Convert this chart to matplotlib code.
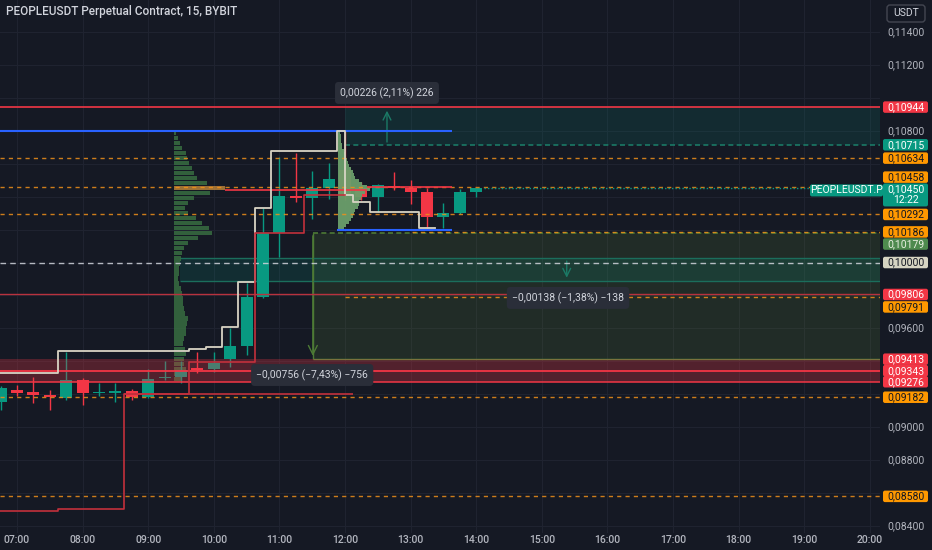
import matplotlib
matplotlib.use("Agg")
import matplotlib.pyplot as plt
from matplotlib.patches import Rectangle, FancyBboxPatch
from matplotlib.transforms import IdentityTransform

plt.rcParams['font.family'] = ['Roboto', 'DejaVu Sans']

# ---------------- data ----------------
title = "PEOPLEUSDT Perpetual Contract, 15, BYBIT"
symbol_tag = "PEOPLEUSDT.P"
currency = "USDT"
countdown = "12:22"
last_price = 0.10450

candle_times = ["06:45", "07:00", "07:15", "07:30", "07:45", "08:00", "08:15", "08:30",
                "08:45", "09:00", "09:15", "09:30", "09:45", "10:00", "10:15", "10:30",
                "10:45", "11:00", "11:15", "11:30", "11:45", "12:00", "12:15", "12:30",
                "12:45", "13:00", "13:15", "13:30", "13:45", "14:00"]
opens = [0.09153, 0.09226, 0.09214, 0.09196, 0.09177, 0.09287, 0.09208, 0.09208,
         0.09220, 0.09183, 0.09299, 0.09305, 0.09360, 0.09353, 0.09414, 0.09493,
         0.09791, 0.10179, 0.10404, 0.10392, 0.10453, 0.10560, 0.10453, 0.10398,
         0.10465, 0.10453, 0.10428, 0.10277, 0.10301, 0.10428]
highs = [0.09250, 0.09256, 0.09305, 0.09226, 0.09457, 0.09299, 0.09268, 0.09268,
         0.09232, 0.09353, 0.09402, 0.09402, 0.09457, 0.09457, 0.09602, 0.09876,
         0.10331, 0.10641, 0.10665, 0.10556, 0.10604, 0.10800, 0.10489, 0.10477,
         0.10550, 0.10501, 0.10453, 0.10362, 0.10447, 0.10453]
lows = [0.09104, 0.09190, 0.09147, 0.09104, 0.09165, 0.09135, 0.09190, 0.09153,
        0.09165, 0.09177, 0.09287, 0.09268, 0.09329, 0.09335, 0.09366, 0.09438,
        0.09785, 0.10034, 0.10368, 0.10264, 0.10386, 0.10380, 0.10380, 0.10307,
        0.10441, 0.10355, 0.10210, 0.10210, 0.10295, 0.10398]
closes = [0.09238, 0.09208, 0.09196, 0.09183, 0.09287, 0.09208, 0.09214, 0.09220,
          0.09183, 0.09293, 0.09305, 0.09347, 0.09347, 0.09390, 0.09493, 0.09791,
          0.10179, 0.10404, 0.10392, 0.10453, 0.10507, 0.10410, 0.10398, 0.10471,
          0.10453, 0.10428, 0.10277, 0.10301, 0.10428, 0.10450]

hour_labels = ["07:00", "08:00", "09:00", "10:00", "11:00", "12:00", "13:00",
               "14:00", "15:00", "16:00", "17:00", "18:00", "19:00", "20:00"]
price_ticks = [0.11400, 0.11200, 0.11000, 0.10800, 0.10600, 0.10400, 0.10200, 0.10000,
               0.09800, 0.09600, 0.09400, 0.09200, 0.09000, 0.08800, 0.08600, 0.08400]

level_prices = [0.10944, 0.10715, 0.10634, 0.10458, 0.10292, 0.10186, 0.10179, 0.10000,
                0.09806, 0.09791, 0.09413, 0.09343, 0.09276, 0.09182, 0.08580]
level_kinds = ["red", "teal", "orange", "orange", "orange", "orange", "green", "cream",
               "red", "orange", "red", "red", "red", "orange", "orange"]

# trailing step lines (time in hours, price)
white_t = [6.70, 7.625, 9.625, 9.875, 10.125, 10.375, 10.625, 10.875, 11.875, 12.0,
           12.125, 12.375, 13.125, 13.375]
white_p = [0.09329, 0.09463, 0.09475, 0.09487, 0.09609, 0.09882, 0.10331, 0.10677, 0.10800,
           0.10410, 0.10368, 0.10307, 0.10210, 0.10210]
red_t = [6.70, 7.625, 8.625, 9.625, 10.625, 11.375, 12.0]
red_p = [0.08491, 0.08503, 0.09202, 0.09396, 0.10179, 0.10410, 0.10410]

# volume profiles (row widths, read in pixels)
vp_left_start, vp_left_top, vp_left_bottom = 9.393, 0.10800, 0.09280
vp_left_vol = [2, 4, 6, 8, 12, 13, 15, 18, 20, 23, 33, 51, 36, 20, 14, 11, 14, 22, 28, 35,
               38, 24, 14, 10, 8, 7, 6, 5, 5, 4, 5, 7, 8, 9, 9, 10, 11, 14, 13, 12,
               12, 10, 9, 11, 12, 10, 10, 12, 11, 8]
vp_right_start, vp_right_top, vp_right_bottom = 11.893, 0.10800, 0.10198
vp_right_vol = [2, 3, 3, 3, 4, 4, 6, 7, 8, 9, 10, 11, 13, 15, 16, 17, 21, 24, 29, 32,
                27, 24, 23, 21, 21, 20, 17, 16, 15, 13, 11, 8, 6]

# measure tools
up_box = (12.0, 0.10715, 0.10944)
up_text, up_text_pos, up_arrow_t = "0,00226 (2,11%) 226", (12.64, 0.11030), 12.64
down_box = (11.51, 0.10179, 0.09413)
down_text, down_text_pos = "\u22120,00756 (\u22127,43%) \u2212756", (11.50, 0.09317)
band_box = (9.485, 0.10026, 0.09888)
band_text, band_text_pos, band_arrow_t = "\u22120,00138 (\u22121,38%) \u2212138", (15.40, 0.09785), 15.38

# ---------------- style ----------------
BG = "#151924"
GRID = "#1f2330"
UP = "#089981"
DN = "#f23645"
ORANGE = "#f0901a"
TXT = "#b2b5be"

W, H = 932, 550
fig = plt.figure(figsize=(W / 100, H / 100), dpi=100, facecolor=BG)
ax = fig.add_axes([0, 17 / H, 880 / W, 1 - 17 / H])
ax.set_facecolor(BG)
XMIN, XMAX = 6.7409, 20.1555
YMIN, YMAX = 0.083575, 0.115943
ax.set_xlim(XMIN, XMAX)
ax.set_ylim(YMIN, YMAX)
for s in ax.spines.values():
    s.set_visible(False)
ax.set_xticks([])
ax.set_yticks([])


def to_h(s):
    hh, mm = s.split(":")
    return int(hh) + int(mm) / 60


# grid
for lab in hour_labels:
    ax.axvline(to_h(lab), color=GRID, lw=0.8, zorder=0)
for p in price_ticks:
    ax.axhline(p, color=GRID, lw=0.8, zorder=0)

RIGHT = 20.4

# boxes
ax.add_patch(Rectangle((up_box[0], up_box[1]), RIGHT - up_box[0], up_box[2] - up_box[1],
                       fc=UP, alpha=0.14, ec="none", zorder=1))
ax.hlines(up_box[1], up_box[0], RIGHT, colors="#1b7a66", lw=1.2, linestyles=(0, (3, 2)), zorder=2)
ax.annotate("", xy=(up_arrow_t, up_box[2] - 0.00005), xytext=(up_arrow_t, up_box[1]),
            arrowprops=dict(arrowstyle="->", color="#1b7a66", lw=1, mutation_scale=14), zorder=3)

ax.add_patch(Rectangle((down_box[0], down_box[2]), RIGHT - down_box[0], down_box[1] - down_box[2],
                       fc="#6a9a3a", alpha=0.15, ec="none", zorder=1))
ax.vlines(down_box[0], down_box[2], down_box[1], colors="#4d7a35", lw=1, zorder=2)
ax.hlines(down_box[1], down_box[0], RIGHT, colors="#4d7a35", lw=1.2, linestyles=(0, (3, 2)), zorder=2)
ax.hlines(down_box[2], down_box[0], RIGHT, colors="#4d8a3a", lw=1, zorder=2)
ax.annotate("", xy=(down_box[0], down_box[2] + 0.00003), xytext=(down_box[0], down_box[1]),
            arrowprops=dict(arrowstyle="->", color="#4d7a35", lw=1, mutation_scale=16), zorder=3)

ax.add_patch(Rectangle((band_box[0], band_box[2]), RIGHT - band_box[0], band_box[1] - band_box[2],
                       fc=UP, alpha=0.16, ec="none", zorder=1))
ax.hlines([band_box[1], band_box[2]], band_box[0], RIGHT, colors="#1b6e5c", lw=1, zorder=2)
ax.annotate("", xy=(band_arrow_t, band_box[2] + 0.00003), xytext=(band_arrow_t, band_box[1]),
            arrowprops=dict(arrowstyle="->", color="#1b7a66", lw=1, mutation_scale=14), zorder=3)


# volume profiles
def profile_rows(top, bottom, vols):
    n = len(vols)
    rh = (top - bottom) / n
    centers = [top - (i + 0.5) * rh for i in range(n)]
    widths = [v / 65.6 for v in vols]
    return centers, widths, rh


c, w, rh = profile_rows(vp_left_top, vp_left_bottom, vp_left_vol)
cols = ["#3b7544"] * len(c)
imax = vp_left_vol.index(max(vp_left_vol))
cols[imax] = "#c58a3a"
ax.barh(c, w, left=vp_left_start, height=rh * 0.82, color=cols, alpha=0.78, zorder=2, lw=0)
c, w, rh = profile_rows(vp_right_top, vp_right_bottom, vp_right_vol)
ax.barh(c, w, left=vp_right_start, height=rh * 0.95, color="#6b9f6b", alpha=0.95, zorder=4, lw=0)

# candles
for t, o, hi, lo, cl in zip(candle_times, opens, highs, lows, closes):
    x = to_h(t)
    col = UP if cl >= o else DN
    ax.vlines(x, lo, hi, colors=col, lw=1, zorder=3)
    ax.bar(x, max(abs(cl - o), 0.00004), bottom=min(o, cl), width=0.18, color=col, lw=0, zorder=3)

# red band
ax.add_patch(Rectangle((XMIN - 1, 0.09276), 30, 0.09413 - 0.09276, fc=DN, alpha=0.28, ec="none", zorder=3.5))

# horizontal levels
ax.axhline(0.10944, color=DN, lw=1.2, zorder=5)
ax.axhline(0.09806, color="#b8323e", lw=1, zorder=5)
ax.axhline(0.09343, color=DN, lw=1.3, zorder=5)
ax.axhline(0.09276, color=DN, lw=1.1, zorder=5)
ax.axhline(0.10000, color="#d1d4dc", lw=1, linestyle=(0, (4, 3)), alpha=0.85, zorder=5)
for p in [0.10634, 0.10458, 0.10292, 0.09182, 0.08580]:
    ax.axhline(p, color=ORANGE, lw=1, linestyle=(0, (3, 3)), alpha=0.85, zorder=5)
ax.hlines(0.10186, 13.02, RIGHT, colors=ORANGE, lw=1, linestyles=(0, (3, 3)), alpha=0.85, zorder=5)
ax.hlines(0.09791, 12.0, RIGHT, colors=ORANGE, lw=1, linestyles=(0, (3, 3)), alpha=0.85, zorder=5)
ax.hlines(last_price, 14.12, 19.1, colors=UP, lw=1, linestyles=(0, (1, 1.5)), zorder=5)
ax.hlines(0.10800, XMIN - 1, 13.63, colors="#2962ff", lw=1.5, zorder=5)
ax.hlines(0.10198, 11.878, 13.63, colors="#2962ff", lw=1.5, zorder=5)
ax.hlines(0.10441, 10.17, 12.335, colors=DN, lw=1.2, zorder=5)
ax.hlines(0.10459, 12.335, 13.63, colors=DN, lw=1.2, zorder=5)
ax.hlines(0.09202, 8.625, 12.125, colors="#c2303c", lw=1.2, zorder=5)

ax.step(white_t, white_p, where="post", color="#d8d4c4", lw=1.3, zorder=5)
ax.step(red_t, red_p, where="post", color="#c2303c", lw=1.2, zorder=5)

# measure labels
for txt, (tx, ty) in [(up_text, up_text_pos), (down_text, down_text_pos), (band_text, band_text_pos)]:
    ax.text(tx, ty, txt, ha="center", va="center", fontsize=7.5, color="#d1d4dc", zorder=7,
            bbox=dict(boxstyle="round,pad=0.5,rounding_size=0.35", fc="#2a2e39", ec="none"))

# ---------------- axis texts in pixel space ----------------
ID = IdentityTransform()


def ypix(p):
    return ax.transData.transform((XMIN, p))[1]


def xpix(t):
    return ax.transData.transform((t, YMIN))[0]


def tag(xc, yc, w, h, text, fc, tc, fs=7.5):
    fig.add_artist(FancyBboxPatch((xc - w / 2, yc - h / 2), w, h, boxstyle="round,pad=0,rounding_size=2",
                                  transform=ID, fc=fc, ec="none", zorder=5))
    fig.text(xc, yc, text, transform=ID, ha="center", va="center", color=tc, fontsize=fs, zorder=6)


fmt = lambda p: f"{p:.5f}".replace(".", ",")

kind_colors = {"red": (DN, "#ffffff"), "teal": (UP, "#ffffff"), "orange": ("#ff9800", "#131722"),
               "green": ("#4e8a4e", "#e8efe0"), "cream": ("#d6d4c2", "#131722")}
label_shift = {0.10458: 10, 0.10179: -11, 0.09791: -10}
label_y = [ypix(p) + label_shift.get(p, 0) for p in level_prices]
yl = ypix(last_price)
taken = label_y + [yl - 6.5]

# price scale ticks that are not covered by a coloured label
for p in price_ticks:
    yp = ypix(p)
    if min(abs(yp - t) for t in taken) < 12:
        continue
    fig.text(906, yp, fmt(p), transform=ID, ha="center", va="center", color=TXT, fontsize=7.5, zorder=4)

for p, k, yy in zip(level_prices, level_kinds, label_y):
    fc, tc = kind_colors[k]
    tag(905.5, yy, 45, 11.5, fmt(p), fc, tc)

# last price + countdown
fig.add_artist(FancyBboxPatch((883, yl - 18), 45, 23, boxstyle="round,pad=0,rounding_size=2",
                              transform=ID, fc=UP, ec="none", zorder=5))
fig.text(905.5, yl - 1, fmt(last_price), transform=ID, ha="center", va="center", color="#ffffff", fontsize=7.5, zorder=6)
fig.text(905.5, yl - 12, countdown, transform=ID, ha="center", va="center", color="#ffffff", fontsize=7.5, zorder=6)
tag(846.5, yl - 2, 73, 12, symbol_tag, UP, "#ffffff")

# time axis
for lab in hour_labels:
    fig.text(xpix(to_h(lab)), 10, lab, transform=ID, ha="center", va="center", color=TXT, fontsize=7.5,
             fontweight="medium")

# title and currency button
fig.text(6, H - 11, title, transform=ID, ha="left", va="center", color="#d1d4dc", fontsize=8.5,
         fontweight="medium")
fig.add_artist(FancyBboxPatch((887, H - 22), 38, 17, boxstyle="round,pad=0,rounding_size=3",
                              transform=ID, fc="none", ec="#434651", lw=1, zorder=5))
fig.text(906, H - 13.5, currency, transform=ID, ha="center", va="center", color="#d1d4dc", fontsize=7.5)

fig.savefig("out.png", dpi=100, facecolor=BG)
